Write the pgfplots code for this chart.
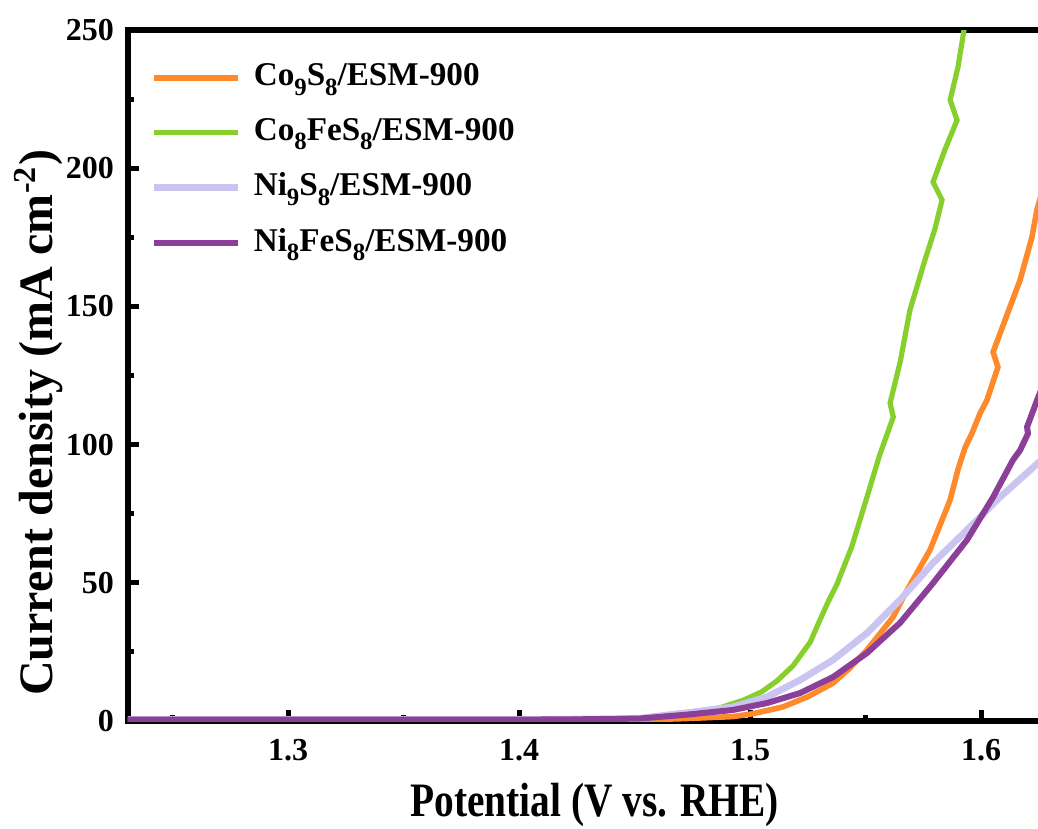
\documentclass[border=0pt]{standalone}
\usepackage{fontspec}
\setmainfont{Liberation Serif}
\usepackage{pgfplots}
\pgfplotsset{compat=1.18}

\definecolor{cOrange}{HTML}{FF8A2B}
\definecolor{cGreen}{HTML}{86CF2D}
\definecolor{cLav}{HTML}{C9C5F0}
\definecolor{cPurple}{HTML}{8B3F98}

% subscript lowered like the original legend
\newcommand{\sub}[1]{\raisebox{-0.28em}{\fontsize{6.2}{6.2}\selectfont #1}}

\begin{document}
\begin{tikzpicture}
% page = 1038x828 px at 0.25pt/px, axis box starts at px (128,721)
\path[use as bounding box] (-32pt,-26.75pt) rectangle (227.5pt,180.25pt);
\begin{axis}[
  scale only axis,
  width=231pt, height=172.75pt,
  xmin=1.2307, xmax=1.6307,
  ymin=0, ymax=250,
  xtick={1.3,1.4,1.5,1.6},
  minor xtick={1.25,1.35,1.45,1.55},
  ytick={0,50,100,150,200,250},
  minor ytick={25,75,125,175,225},
  tick align=inside,
  tick pos=left,
  major tick length=2.75pt,
  minor tick length=1.5pt,
  every tick/.style={black, line width=1.25pt},
  axis line style={line width=1.4pt},
  /pgf/number format/assume math mode=true,
  /pgf/number format/fixed,
  ticklabel style={font=\bfseries\fontsize{8}{9}\selectfont},
  xticklabel style={yshift=-1pt},
  xlabel={\scalebox{0.82}[1]{\bfseries Potential (V vs. RHE)}},
  ylabel={\bfseries Current density (mA cm\textsuperscript{-2})},
  label style={font=\fontsize{12}{14}\selectfont},
  xlabel style={at={(axis description cs:0.505,-0.122)}, anchor=center},
  ylabel style={at={(axis description cs:-0.097,0.432)}, anchor=center},
  legend style={at={(axis description cs:0.024,0.958)}, anchor=north west,
    draw=none, fill=none, font=\bfseries\fontsize{8.3}{10}\selectfont,
    row sep=4.6pt, column sep=2pt, inner sep=0pt, nodes={inner sep=1pt}},
  legend cell align=left,
  legend image code/.code={\draw[#1] (0pt,0pt) -- (21pt,0pt);},
]

\addplot[color=cOrange, line width=1.4pt] coordinates {
  (1.2307,0.3) (1.30,0.3) (1.40,0.3) (1.44,0.4) (1.4567,0.5) (1.4726,0.9)
  (1.4926,1.6) (1.5010,2.6) (1.5142,5.1) (1.5250,8.8) (1.5359,13.7)
  (1.5430,19) (1.5506,25.7) (1.5619,37.6) (1.5680,47.4) (1.5779,61.9)
  (1.5866,80) (1.5900,91) (1.5931,99) (1.5960,104) (1.5996,111.4)
  (1.6025,116) (1.6073,128) (1.6052,133.5) (1.6125,149.8) (1.6169,159.6)
  (1.6220,175) (1.6242,185) (1.6310,205)
};
\addlegendentry{Co\sub{9}S\sub{8}/ESM-900}

\addplot[color=cGreen, line width=1.3pt] coordinates {
  (1.2307,0.5) (1.30,0.5) (1.40,0.5) (1.44,0.6) (1.46,1.2) (1.475,2.6)
  (1.487,4.8) (1.497,7.5) (1.5049,10.5) (1.5116,14.5) (1.5186,20)
  (1.5260,28.5) (1.5302,36.5) (1.5340,43.5) (1.5376,49.5) (1.5440,63)
  (1.5506,81) (1.5560,96) (1.5620,110) (1.5606,115) (1.5650,130)
  (1.5692,148.7) (1.5757,166.8) (1.5800,178) (1.5831,188.5) (1.5792,195)
  (1.5843,206.6) (1.5896,217.4) (1.5866,224.7) (1.5900,236.6) (1.5926,250)
  (1.5940,256)
};
\addlegendentry{Co\sub{8}FeS\sub{8}/ESM-900}

\addplot[color=cLav, line width=1.7pt] coordinates {
  (1.2307,0.5) (1.30,0.5) (1.40,0.5) (1.44,0.8) (1.4523,1.0) (1.4727,3.0)
  (1.4926,5.1) (1.5073,8.7) (1.5216,14.8) (1.5359,22.1) (1.5506,31.8)
  (1.5649,43.8) (1.5792,57.2) (1.5939,69.1) (1.6082,81) (1.6246,93.3)
  (1.6310,98)
};
\addlegendentry{Ni\sub{9}S\sub{8}/ESM-900}

\addplot[color=cPurple, line width=1.5pt] coordinates {
  (1.2307,0.5) (1.30,0.5) (1.40,0.5) (1.44,0.7) (1.4523,0.9) (1.4726,2.3)
  (1.4926,4.0) (1.5073,6.5) (1.5216,10.1) (1.5359,15.9) (1.5506,24.6)
  (1.5649,35.5) (1.5792,49.9) (1.5939,65.5) (1.6052,81) (1.6138,94.4)
  (1.6169,98) (1.6203,104) (1.6199,106.4) (1.6246,116.9) (1.6310,130)
};
\addlegendentry{Ni\sub{8}FeS\sub{8}/ESM-900}

\end{axis}
\end{tikzpicture}
\end{document}
